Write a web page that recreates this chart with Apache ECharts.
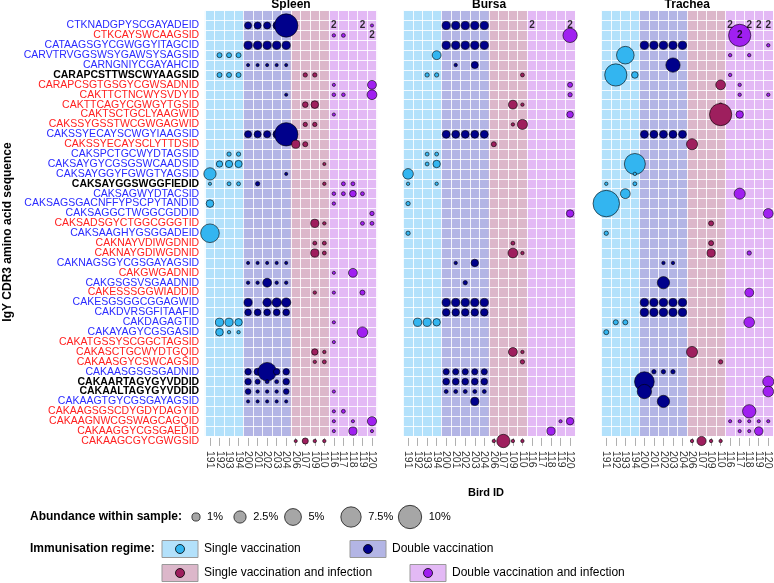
<!DOCTYPE html>
<html><head><meta charset="utf-8">
<script src="https://cdn.jsdelivr.net/npm/echarts@6/dist/echarts.min.js"></script>
<style>html,body{margin:0;padding:0;background:#fff}#c{width:774px;height:583px}</style>
</head><body><div id="c"></div>
<script>
// ---------------- DATA ----------------
const birds = ['191','192','193','194','200','201','202','203','204','206','107','109','110','116','117','118','119','120'];
const birdRegime = ['SV','SV','SV','SV','DV','DV','DV','DV','DV','SVI','SVI','SVI','SVI','DVI','DVI','DVI','DVI','DVI'];
const sequences = [
'CTKNADGPYSCGAYADEID','CTKCAYSWCAAGSID','CATAAGSGYCGWGGYITAGCID','CARVTRVGGSWSYGAWSYSAGSID','CARNGNIYCGAYAHCID',
'CARAPCSTTWSCWYAAGSID','CARAPCSGTGSGYCGWSADNID','CAKTTCTNCWYSVDYID','CAKTTCAGYCGWGYTGSID','CAKTSCTGCLYAAGWID',
'CAKSSYGSSTWCGWGAGWID','CAKSSYECAYSCWGYIAAGSID','CAKSSYECAYSCLYTTDSID','CAKSPCTGCWYDTAGSID','CAKSAYGYCGSGSWCAADSID',
'CAKSAYGGYFGWGTYAGSID','CAKSAYGGSWGGFIEDID','CAKSAGWYDTACSID','CAKSAGSGACNFFYPSCPYTANDID','CAKSAGGCTWGGCGDDID',
'CAKSADSGYCTGGCGGGTID','CAKSAAGHYGSGGADEID','CAKNAYVDIWGDNID','CAKNAYGDIWGDNID','CAKNAGSGYCGSGAYAGSID',
'CAKGWGADNID','CAKGSGSVSGAADNID','CAKESSSGGWIADDID','CAKESGSGGCGGAGWID','CAKDVRSGFITAAFID',
'CAKDAGAGTID','CAKAYAGYCGSGASID','CAKATGSSYSCGGCTAGSID','CAKASCTGCWYDTGQID','CAKAASGYCSWCAGSID',
'CAKAASGSGSGADNID','CAKAARTAGYGYVDDID','CAKAALTAGYGYVDDID','CAKAAGTGYCGSGAYAGSID','CAKAAGSGSCDYGDYDAGYID',
'CAKAAGNWCGSWAGCAGQID','CAKAAGGYCGSGAEDID','CAKAAGCGYCGWGSID'];
const seqGroup = ['b','r','b','b','b','k','r','r','r','r','r','b','r','b','b','b','k','b','b','b','r','b','r','r','b','r','b','r','b','b','b','b','r','r','r','b','k','k','b','r','r','r','r'];
// [bird, row (1-based), abundance %]
const spleen = [
['200',1,0.7],['201',1,0.7],['202',1,0.7],['203',1,0.8],['204',1,10],['120',1,0.08],
['116',2,0.1],['117',2,0.15],
['200',3,1.0],['201',3,1.0],['202',3,1.0],['203',3,1.0],['204',3,1.0],
['192',4,0.3],['193',4,0.3],['194',4,0.3],
['200',5,0.08],['201',5,0.08],['202',5,0.08],['203',5,0.08],['204',5,0.08],
['192',6,0.3],['193',6,0.3],['194',6,0.3],['107',6,0.2],['109',6,0.2],
['116',7,0.08],['120',7,1.2],
['204',8,0.08],['116',8,0.12],['117',8,0.12],['120',8,1.5],
['107',9,0.4],['109',9,0.85],
['116',10,0.08],
['107',11,0.2],['109',11,0.2],
['200',12,0.7],['201',12,0.7],['202',12,0.7],['203',12,0.8],['204',12,10],
['206',13,1.0],['107',13,0.3],
['193',14,0.2],['194',14,0.2],
['192',15,0.55],['193',15,0.75],['194',15,0.75],['110',15,0.08],
['191',16,2.5],['204',16,0.08],
['191',17,0.08],['193',17,0.15],['194',17,0.15],['201',17,0.2],['110',17,0.1],['117',17,0.15],['118',17,0.15],
['116',18,0.12],['117',18,0.15],['118',18,0.6],['119',18,0.15],
['191',19,0.85],['116',19,0.1],
['120',20,0.2],
['109',21,1.0],['110',21,0.1],['119',21,0.15],['120',21,0.15],
['191',22,6.2],
['109',23,0.15],['110',23,0.15],
['109',24,1.0],['110',24,0.15],
['200',25,0.08],['201',25,0.08],['202',25,0.08],['203',25,0.08],['204',25,0.08],
['116',26,0.08],['118',26,1.2],
['200',27,0.1],['201',27,0.1],['202',27,1.2],['203',27,0.1],['204',27,0.1],
['109',28,0.1],['116',28,0.08],['119',28,0.3],
['200',29,1.0],['202',29,1.1],['203',29,1.3],['204',29,1.3],
['200',30,0.6],['201',30,0.6],['202',30,0.6],['203',30,0.6],['204',30,0.6],
['192',31,1.0],['193',31,1.0],['194',31,0.8],['116',31,0.08],
['192',32,0.85],['193',32,0.1],['194',32,0.1],['119',32,1.8],
['116',33,0.08],
['109',34,0.55],['110',34,0.1],
['109',35,0.1],['110',35,0.15],
['200',36,0.55],['201',36,0.7],['202',36,6.2],['203',36,0.55],['204',36,0.55],
['200',37,0.55],['201',37,0.3],['202',37,0.15],['203',37,0.15],['204',37,0.55],
['200',38,0.4],['201',38,0.1],['202',38,0.1],['203',38,0.1],['204',38,0.4],['116',38,0.08],
['200',39,0.08],['201',39,0.08],['202',39,0.08],['203',39,0.08],['204',39,0.08],
['116',40,0.08],['117',40,0.15],
['116',41,0.08],['118',41,0.08],['120',41,1.3],
['116',42,0.08],['118',42,1.0],['120',42,0.08],
['206',43,0.08],['107',43,0.5],['109',43,0.1],['110',43,0.1]
];
const bursa = [
['200',1,1.0],['201',1,1.0],['202',1,1.0],['203',1,1.0],['204',1,1.0],
['120',2,3.5],
['200',3,1.0],['201',3,1.0],['202',3,1.0],['203',3,1.0],['204',3,1.0],
['194',4,1.2],
['201',5,0.1],['203',5,0.7],
['193',6,0.2],['194',6,0.2],['110',6,0.15],
['120',7,0.3],
['120',8,0.2],
['109',9,1.2],['110',9,0.1],
['120',10,0.6],
['109',11,0.1],['110',11,1.6],
['200',12,0.9],['201',12,0.9],['202',12,0.9],['203',12,0.9],['204',12,0.9],
['206',13,0.3],
['193',14,0.15],['194',14,0.15],
['193',15,0.15],['194',15,0.8],
['191',16,1.8],
['191',17,0.1],['194',17,0.1],
['191',19,0.2],
['120',20,0.8],
['191',22,0.2],
['109',23,0.15],
['109',24,1.5],['110',24,0.1],
['201',25,0.1],['203',25,0.8],
['202',27,0.2],
['200',29,1.0],['201',29,1.0],['202',29,1.0],['203',29,1.0],['204',29,1.0],
['200',30,0.8],['201',30,0.8],['202',30,0.8],['203',30,0.8],['204',30,0.8],
['192',31,1.0],['193',31,1.0],['194',31,0.8],
['109',34,1.2],['110',34,0.1],
['110',35,0.2],
['200',36,0.5],['201',36,0.5],['202',36,0.5],['203',36,0.5],['204',36,0.5],
['200',37,0.6],['201',37,0.6],['202',37,0.6],['203',37,0.6],['204',37,0.6],
['200',38,0.15],['201',38,0.15],['202',38,0.15],['203',38,0.15],['204',38,0.15],
['203',39,1.0],
['119',41,0.08],['120',41,0.8],
['118',42,1.0],
['206',43,0.1],['107',43,3.0],['109',43,0.1],['110',43,0.1]
];
const trachea = [
['117',2,9],
['200',3,1.0],['201',3,1.0],['202',3,1.0],['203',3,1.0],['204',3,1.0],['120',3,0.1],
['193',4,5.5],['116',4,0.1],['118',4,0.1],
['203',5,3.5],
['192',6,9],['194',6,0.6],['116',6,0.1],
['110',7,1.5],['117',7,0.1],
['117',8,0.1],['120',8,0.1],
['110',9,0.1],
['110',10,9],['117',10,0.8],
['200',12,0.9],['201',12,0.9],['202',12,0.9],['203',12,0.9],['204',12,0.9],
['206',13,2.0],
['194',15,8],
['194',16,0.1],
['191',17,0.1],['194',17,0.15],
['193',18,1.5],['117',18,2.0],
['191',19,13],
['120',20,1.5],
['109',21,0.3],
['191',22,0.2],
['109',23,0.3],
['109',24,1.0],['118',24,0.2],
['202',25,0.1],['203',25,0.1],
['202',27,2.5],
['118',28,1.2],
['200',29,1.0],['201',29,1.0],['202',29,1.0],['203',29,1.0],['204',29,1.0],
['200',30,1.0],['201',30,1.0],['202',30,1.0],['203',30,1.0],['204',30,1.0],
['192',31,0.3],['193',31,0.3],['118',31,1.8],
['191',32,0.3],
['206',34,2.0],
['110',35,0.2],
['201',36,0.2],['202',36,0.2],['203',36,0.2],
['200',37,7],['120',37,2.0],
['200',38,3.5],['120',38,1.8],
['202',39,2.5],
['118',40,3.0],
['116',41,0.08],['117',41,0.08],['118',41,0.08],['119',41,0.08],['120',41,0.08],
['117',42,0.08],['118',42,0.08],['119',42,1.1],
['206',43,0.1],['107',43,1.3],['109',43,0.1],['110',43,0.1]
];
const spleenTwos = [['116',1],['119',1],['120',2]];
const bursaTwos = [['116',1],['120',1]];
const tracheaTwos = [['116',1],['118',1],['119',1],['120',1],['117',2]];
const legendSizes = [1,2.5,5,7.5,10];
const legendSizeLabels = ['1%','2.5%','5%','7.5%','10%'];
const regimeNames = {SV:'Single vaccination',DV:'Double vaccination',SVI:'Single vaccination and infection',DVI:'Double vaccination and infection'};

// ---------------- STYLE / LAYOUT ----------------
const FONT = 'Liberation Sans, Arial, Helvetica, sans-serif';
const bgColor = {SV:'#b3e1fb',DV:'#b3b5e5',SVI:'#dcb7ca',DVI:'#e3b9f5'};
const ptColor = {SV:'#33b5f0',DV:'#00008b',SVI:'#9e1f5e',DVI:'#a020f0'};
const seqRich = {b:{color:'#2b2bff',fontSize:10.5,fontFamily:FONT},r:{color:'#ff2121',fontSize:10.5,fontFamily:FONT},k:{color:'#000',fontWeight:'bold',fontSize:10.5,fontFamily:FONT}};
const sizeOf = p => 1.2 + 7*Math.sqrt(p);
const colW = 9.53;
const gridTop = 10.65, gridH = 435.3;
const panels = [
  {name:'Spleen', left:205.2, data:spleen, twos:spleenTwos},
  {name:'Bursa', left:403.3, data:bursa, twos:bursaTwos},
  {name:'Trachea', left:601.5, data:trachea, twos:tracheaTwos}
];
const yCats = [''].concat(sequences);
const grids=[], xAxes=[], yAxes=[], series=[], graphics=[];
panels.forEach((p,i)=>{
  const w = colW*birds.length;
  grids.push({left:p.left, top:gridTop, width:w, height:gridH, containLabel:false});
  xAxes.push({type:'category', gridIndex:i, data:birds, position:'bottom', z:3,
    axisLine:{show:false}, axisTick:{show:true, inside:true, length:8, alignWithLabel:true, lineStyle:{color:'#b0b0b0'}},
    axisLabel:{rotate:-90, fontSize:10.5, color:'#333', fontFamily:FONT, margin:5, interval:0},
    splitLine:{show:true, interval:0, lineStyle:{color:'rgba(255,255,255,0.85)', width:1}}});
  yAxes.push({type:'category', gridIndex:i, data:yCats, inverse:true, z:3,
    axisLine:{show:false}, axisTick:{show:false},
    axisLabel:{show:i===0, interval:0, margin:6, formatter:(v,idx)=> idx===0?'':'{'+seqGroup[idx-1]+'|'+v+'}', rich:seqRich},
    splitLine:{show:true, interval:0, lineStyle:{color:'rgba(255,255,255,0.85)', width:1}}});
  series.push({type:'custom', xAxisIndex:i, yAxisIndex:i, z:1, silent:true,
    data: birds.map((b,k)=>[k]),
    renderItem:(params, api)=>{
      const k = api.value(0);
      const c0 = api.coord([k,0]);
      const c1 = api.coord([k,sequences.length]);
      const sz = api.size([1,1]);
      const x = c0[0]-sz[0]/2, y = c0[1]-sz[1]/2;
      return {type:'rect', shape:{x:x-0.3, y:y, width:sz[0]+0.6, height:(c1[1]-sz[1]/2)-y}, style:{fill:bgColor[birdRegime[k]]}};
    }});
  ['SV','DV','SVI','DVI'].forEach(reg=>{
    series.push({type:'scatter', xAxisIndex:i, yAxisIndex:i, z:5, clip:false,
      data: p.data.filter(d=>birdRegime[birds.indexOf(d[0])]===reg).map(d=>[birds.indexOf(d[0]), d[1], d[2]]),
      symbolSize: v=>sizeOf(v[2]),
      itemStyle:{color:ptColor[reg], borderColor:'#000', borderWidth:0.6, opacity:1}});
  });
  series.push({type:'scatter', xAxisIndex:i, yAxisIndex:i, z:6, clip:false, symbolSize:0,
    data: p.twos.map(d=>[birds.indexOf(d[0]), d[1]]),
    label:{show:true, position:'inside', formatter:'2', fontWeight:'bold', fontSize:10, color:'#000', fontFamily:FONT}});
  graphics.push({type:'text', x:p.left+w/2, y:5, style:{text:p.name, textAlign:'center', textVerticalAlign:'middle', font:'bold 12px '+FONT, fill:'#000'}});
});

graphics.push({type:'text', x:486, y:493, style:{text:'Bird ID', textAlign:'center', textVerticalAlign:'middle', font:'bold 11px '+FONT, fill:'#000'}});
graphics.push({type:'text', x:8, y:232, rotation:Math.PI/2, style:{text:'IgY CDR3 amino acid sequence', textAlign:'center', textVerticalAlign:'middle', font:'bold 12px '+FONT, fill:'#000'}});

const legY1 = 517;
graphics.push({type:'text', x:30, y:legY1, style:{text:'Abundance within sample:', textVerticalAlign:'middle', font:'bold 12px '+FONT, fill:'#000'}});
const legXs = [196, 240, 293, 351, 410];
legendSizes.forEach((s,k)=>{
  graphics.push({type:'circle', shape:{cx:legXs[k], cy:legY1, r:sizeOf(s)/2}, style:{fill:'#a6a6a6', stroke:'#000', lineWidth:0.7}});
  graphics.push({type:'text', x:legXs[k]+sizeOf(s)/2+7, y:legY1, style:{text:legendSizeLabels[k], textVerticalAlign:'middle', font:'11px '+FONT, fill:'#000'}});
});
const legY2 = 549, legY3 = 573;
graphics.push({type:'text', x:30, y:legY2, style:{text:'Immunisation regime:', textVerticalAlign:'middle', font:'bold 12px '+FONT, fill:'#000'}});
[['SV',162,legY2],['DV',350,legY2],['SVI',162,legY3],['DVI',410,legY3]].forEach(([r,x,y])=>{
  graphics.push({type:'rect', shape:{x:x, y:y-8.5, width:36, height:17}, style:{fill:bgColor[r], stroke:'#999', lineWidth:1}});
  graphics.push({type:'circle', shape:{cx:x+18, cy:y, r:4.5}, style:{fill:ptColor[r], stroke:'#000', lineWidth:0.8}});
  graphics.push({type:'text', x:x+42, y:y, style:{text:regimeNames[r], textVerticalAlign:'middle', font:'12px '+FONT, fill:'#000'}});
});

const chart = echarts.init(document.getElementById('c'), null, {renderer:'canvas'});
chart.setOption({animation:false, backgroundColor:'#fff', grid:grids, xAxis:xAxes, yAxis:yAxes, series:series, graphic:graphics});
</script></body></html>
